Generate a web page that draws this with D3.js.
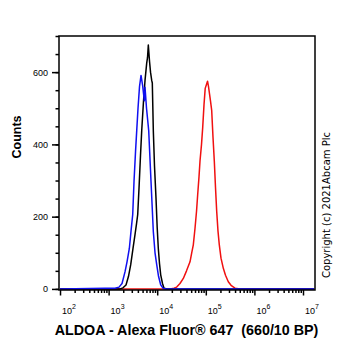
<!DOCTYPE html>
<html>
<head>
<meta charset="utf-8">
<script src="https://cdn.jsdelivr.net/npm/d3@7/dist/d3.min.js"></script>
<style>
  html, body { margin: 0; padding: 0; background: #fff; }
  svg { display: block; font-family: Arial, "Liberation Sans", sans-serif; }
  .axis path, .axis line { stroke: #000; stroke-width: 1.5px; }
  .axis text { fill: #000; }
</style>
</head>
<body>
<div id="view"></div>
<script>
// ---------- data ----------
// histogram outlines: fluorescence intensity -> event counts
const blueX = [100, 843, 1355, 1637, 1888, 2173, 2392, 2669, 2891, 3133, 3333, 3580, 3788, 4027, 4323, 4643,
  4986, 5432, 5610, 6025, 6686, 7451, 8313, 9015, 9768, 10644, 11810, 13150, 15170, 17000000];
const blueY = [0, 2, 2, 5, 15, 47, 75, 112, 160, 206, 298, 380, 438, 500, 560, 591,
  565, 521, 558, 500, 438, 298, 159, 100, 67, 35, 11, 2, 0, 0];

const blackX = [100, 1717, 1977, 2280, 2566, 2850, 3177, 3491, 3750, 3970, 4226, 4533, 4797, 5226, 5610, 6077,
  6313, 6561, 6946, 7284, 7708, 7926, 8318, 8795, 9439, 9990, 10536, 11150, 11800, 12850, 13800, 15900, 17000000];
const blackY = [0, 0, 3, 11, 35, 67, 112, 150, 180, 206, 280, 370, 438, 520, 577, 625,
  640, 675, 630, 600, 577, 570, 438, 340, 252, 170, 112, 70, 39, 15, 2, 0, 0];

const redX = [100, 18330, 22170, 25170, 29430, 34440, 40090, 47320, 51290, 55320, 59980, 64420, 68140, 72440,
  75980, 81600, 86360, 91860, 97210, 104400, 108500, 113700, 119200, 125000, 132200, 140600, 149600, 158400,
  167500, 178200, 189600, 205500, 229300, 254200, 290300, 330300, 399100, 505800, 17000000];
const redY = [0, 0, 2, 5, 15, 29, 50, 75, 100, 122, 168, 215, 262, 310,
  354, 400, 447, 510, 555, 568, 575, 560, 540, 520, 494, 420, 354, 280,
  215, 160, 122, 85, 57, 38, 20, 10, 2, 0, 0];

const yMajor = [0, 200, 400, 600];
const yMinor = d3.range(0, 701, 50);
const xDecades = [2, 3, 4, 5, 6, 7];

const xTitle = "ALDOA - Alexa Fluor® 647  (660/10 BP)";
const yTitle = "Counts";
const copyright = "Copyright (c) 2021Abcam Plc";

// ---------- draw ----------
const W = 362, H = 351;
const M = { t: 36, r: 47, b: 61, l: 59 };
const w = W - M.l - M.r, h = H - M.t - M.b;

const svg = d3.select("#view").append("svg").attr("width", W).attr("height", H);
const g = svg.append("g").attr("transform", `translate(${M.l},${M.t})`);

const x = d3.scaleLog().domain([Math.pow(10, 1.979), Math.pow(10, 7.247)]).range([0, w]);
const y = d3.scaleLinear().domain([-3, 700]).range([h, 0]);

// minor x ticks (2..9 of each decade)
const xMinor = [];
xDecades.slice(0, -1).forEach(e => {
  for (let k = 2; k <= 9; k++) xMinor.push(k * Math.pow(10, e));
});

const xMinAxis = g.append("g").attr("class", "axis").attr("transform", `translate(0,${h})`)
  .call(d3.axisBottom(x).tickValues(xMinor).tickSize(3).tickFormat(""));
xMinAxis.select(".domain").remove();

const xAxis = g.append("g").attr("class", "axis").attr("transform", `translate(0,${h})`)
  .call(d3.axisBottom(x).tickValues(xDecades.map(e => Math.pow(10, e))).tickSize(5.5).tickFormat(""));
xAxis.select(".domain").remove();

// x tick labels 10^n
const lab = g.append("g").attr("font-size", "9px");
xDecades.forEach(e => {
  const t = lab.append("text")
    .attr("x", x(Math.pow(10, e)) + 2)
    .attr("y", h + 23.5);
  t.append("tspan").text("10");
  t.append("tspan").attr("font-size", "7px").attr("dy", "-5").text(e);
});

// y axis
const yMinAxis = g.append("g").attr("class", "axis")
  .call(d3.axisLeft(y).tickValues(yMinor).tickSize(3.5).tickFormat(""));
yMinAxis.select(".domain").remove();

const yAxis = g.append("g").attr("class", "axis")
  .call(d3.axisLeft(y).tickValues(yMajor).tickSize(7).tickPadding(4).tickFormat(d3.format("d")));
yAxis.select(".domain").remove();
yAxis.selectAll("text").style("font-size", "9px");

// curves
const line = d3.line().x(d => x(d[0])).y(d => y(d[1]));
const series = [
  { xs: redX, ys: redY, color: "#f01010" },
  { xs: blackX, ys: blackY, color: "#000" },
  { xs: blueX, ys: blueY, color: "#1010f0" }
];
series.forEach(s => {
  g.append("path")
    .datum(s.xs.map((v, i) => [v, s.ys[i]]))
    .attr("fill", "none")
    .attr("stroke", s.color)
    .attr("stroke-width", 1.5)
    .attr("stroke-linejoin", "round")
    .attr("d", line);
});

// frame
g.append("rect")
  .attr("x", 0).attr("y", 0).attr("width", w).attr("height", h)
  .attr("fill", "none").attr("stroke", "#000").attr("stroke-width", 1.5);

// titles
svg.append("text")
  .attr("x", 186.5).attr("y", 335)
  .attr("text-anchor", "middle")
  .attr("font-weight", "bold").attr("font-size", "14.3px")
  .style("white-space", "pre")
  .text(xTitle);

svg.append("text")
  .attr("transform", "translate(21,137) rotate(-90)")
  .attr("text-anchor", "middle")
  .attr("font-weight", "bold").attr("font-size", "12.5px")
  .text(yTitle);

svg.append("text")
  .attr("transform", "translate(330,205) rotate(-90)")
  .attr("text-anchor", "middle")
  .attr("font-size", "10px")
  .attr("font-family", "'DejaVu Sans', sans-serif")
  .text(copyright);
</script>
</body>
</html>
